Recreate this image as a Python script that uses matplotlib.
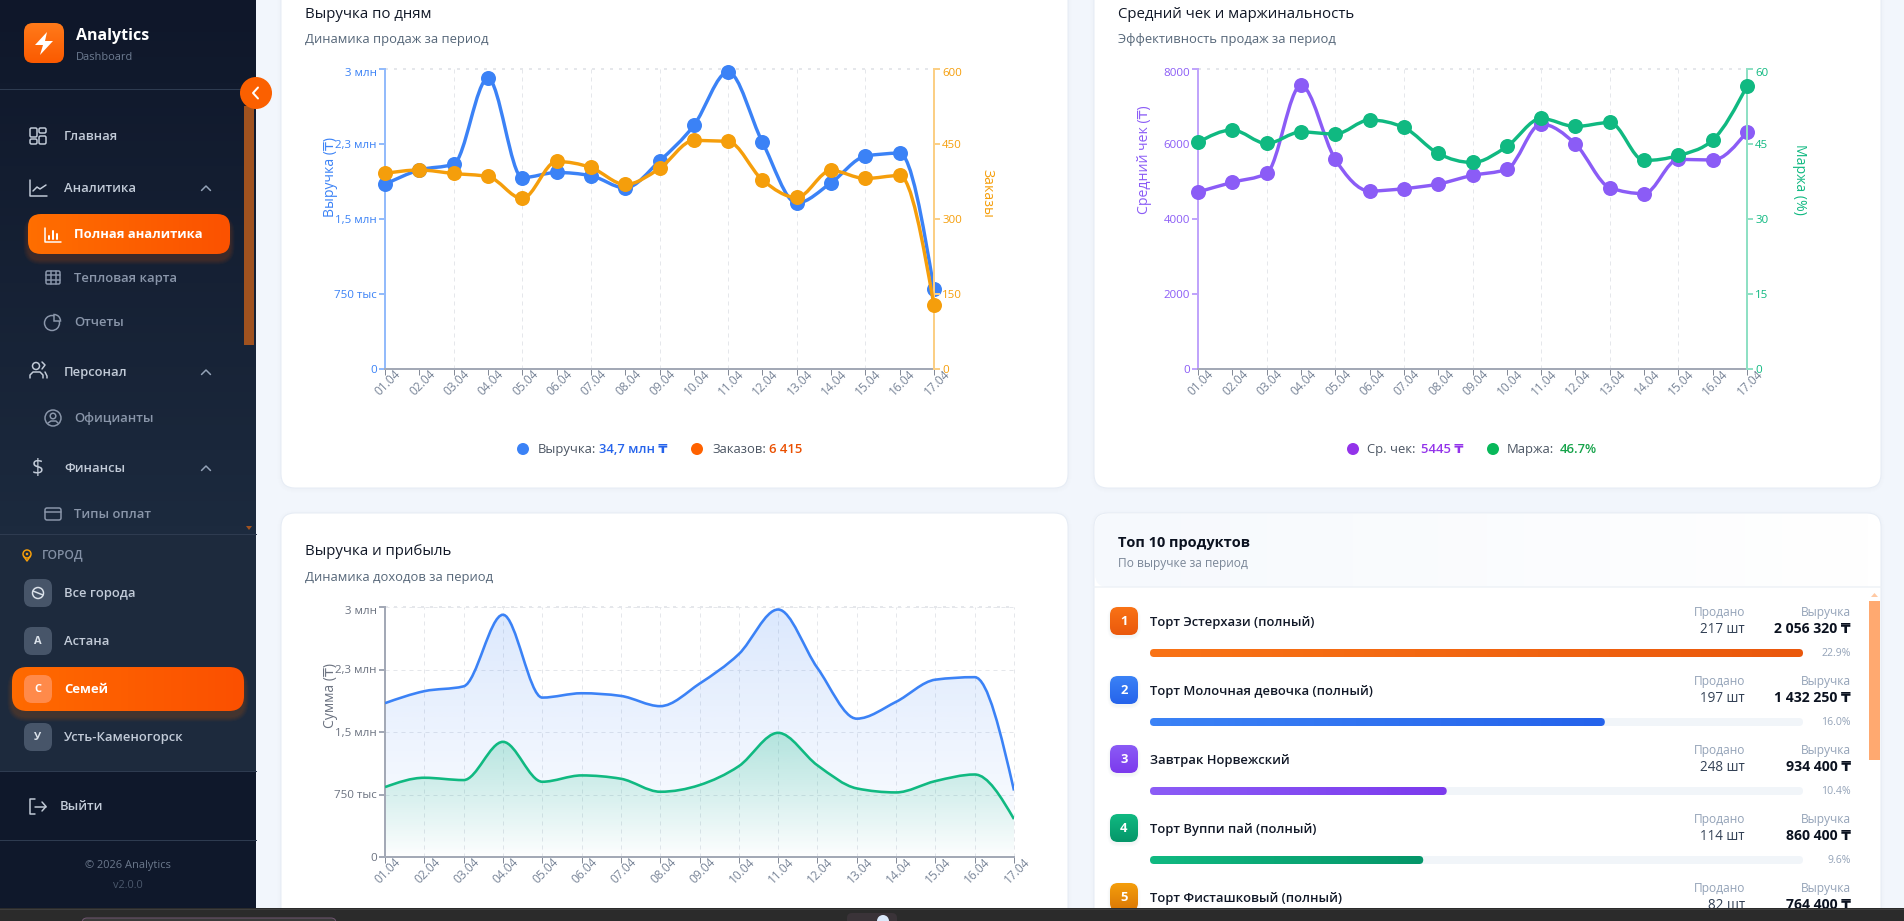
import matplotlib
matplotlib.use("Agg")
import matplotlib.pyplot as plt
import numpy as np
from matplotlib.colors import to_rgb
from matplotlib.patches import Circle, FancyBboxPatch, PathPatch, Polygon, Rectangle, Wedge
from matplotlib.path import Path
from matplotlib.transforms import ScaledTranslation

W, H = 1904, 921
PT = 0.72  # px -> pt at dpi 100

plt.rcParams['font.family'] = ['Open Sans', 'DejaVu Sans']

days = ['01.04', '02.04', '03.04', '04.04', '05.04', '06.04', '07.04', '08.04', '09.04',
        '10.04', '11.04', '12.04', '13.04', '14.04', '15.04', '16.04', '17.04']
revenue = [1846000, 1990000, 2048000, 2907000, 1913000, 1965000, 1933000, 1810000, 2080000,
           2435000, 2970000, 2268000, 1660000, 1862000, 2128000, 2158000, 798000]
orders = [391, 398, 391, 385, 341, 415, 403, 369, 401, 457, 455, 378, 343, 397, 381, 387, 127]
avg_check = [4720, 4978, 5218, 7564, 5591, 4747, 4809, 4933, 5164, 5324, 6533, 6000, 4836, 4676,
             5591, 5573, 6329]
margin = [45.3, 47.8, 45.1, 47.4, 47.0, 49.8, 48.3, 43.1, 41.3, 44.5, 50.1, 48.5, 49.3, 41.7,
          42.7, 45.8, 56.6]
profit = [839000, 951000, 923000, 1382000, 903000, 979000, 939000, 783000, 863000, 1090000,
          1490000, 1100000, 823000, 775000, 911000, 990000, 455000]

money_ticks = [0, 750000, 1500000, 2250000, 3000000]
money_labels = ['0', '750 тыс', '1,5 млн', '2,3 млн', '3 млн']
order_ticks = [0, 150, 300, 450, 600]
check_ticks = [0, 2000, 4000, 6000, 8000]
margin_ticks = [0, 15, 30, 45, 60]

products = ['Торт Эстерхази (полный)', 'Торт Молочная девочка (полный)', 'Завтрак Норвежский',
            'Торт Вуппи пай (полный)', 'Торт Фисташковый (полный)']
product_qty = ['217 шт', '197 шт', '248 шт', '114 шт', '82 шт']
product_rev = [2056320, 1432250, 934400, 860400, 764400]
product_rev_labels = ['2 056 320 ₸', '1 432 250 ₸', '934 400 ₸', '860 400 ₸', '764 400 ₸']
product_share = ['22.9%', '16.0%', '10.4%', '9.6%']  # fifth row is below the fold
product_colors = [('#f97316', '#ea580c'), ('#3b82f6', '#2563eb'), ('#8b5cf6', '#7c3aed'),
                  ('#10b981', '#059669'), ('#f59e0b', '#d97706')]

BLUE, ORANGE, PURPLE, GREEN = '#3b82f6', '#f59e0b', '#8b5cf6', '#10b981'
GREY_AXIS = '#a3a9b6'
GRID = '#e5e7eb'


def monotone_path(xs, ys, close_to=None):
    # same curve as d3 curveMonotoneX
    xs, ys = np.asarray(xs, float), np.asarray(ys, float)
    h = np.diff(xs)
    s = np.diff(ys) / h
    t = np.zeros(len(xs))
    for i in range(1, len(xs) - 1):
        p = (s[i - 1] * h[i] + s[i] * h[i - 1]) / (h[i - 1] + h[i])
        t[i] = (np.sign(s[i - 1]) + np.sign(s[i])) * min(abs(s[i - 1]), abs(s[i]), 0.5 * abs(p))
    t[0] = (3 * s[0] - t[1]) / 2
    t[-1] = (3 * s[-1] - t[-2]) / 2
    verts = [(xs[0], ys[0])]
    codes = [Path.MOVETO]
    for i in range(len(h)):
        d = h[i] / 3
        verts += [(xs[i] + d, ys[i] + d * t[i]), (xs[i + 1] - d, ys[i + 1] - d * t[i + 1]),
                  (xs[i + 1], ys[i + 1])]
        codes += [Path.CURVE4] * 3
    if close_to is not None:
        verts += [(xs[-1], close_to), (xs[0], close_to), (xs[0], close_to)]
        codes += [Path.LINETO, Path.LINETO, Path.CLOSEPOLY]
    return Path(verts, codes)


def px_axes(fig, x0, y0, x1, y1):
    ax = fig.add_axes([x0 / W, 1 - y1 / H, (x1 - x0) / W, (y1 - y0) / H])
    ax.set_facecolor('none')
    ax.px_rect = (x0, y0, x1, y1)
    return ax


def label_at(ax, axis, text, px, py, color, rotation):
    x0, y0, x1, y1 = ax.px_rect
    axis.set_label_text(text, color=color, fontsize=14 * PT, rotation=rotation, va='center', ha='center')
    axis.set_label_coords((px - x0) / (x1 - x0), (y1 - py) / (y1 - y0))


def push_top_label(ax, axis):
    # the browser pushes the topmost tick label down a little
    lab = axis.get_ticklabels()[-1]
    lab.set_transform(lab.get_transform() + ScaledTranslation(0, -3 / 100, ax.figure.dpi_scale_trans))


def style_axis(ax, side, ticks, labels, color, line_color):
    yaxis = ax.yaxis
    ax.set_yticks(ticks)
    ax.set_yticklabels(labels)
    ax.set_ylim(ticks[0], ticks[-1])
    for name, spine in ax.spines.items():
        spine.set_visible(name == side)
    ax.spines[side].set_color(line_color)
    ax.spines[side].set_linewidth(2 * PT)
    ax.tick_params(axis='y', length=6 * PT, width=2 * PT, color=line_color, labelcolor=color,
                   labelsize=11.5 * PT, pad=1.5)
    if side == 'right':
        yaxis.tick_right()
    push_top_label(ax, yaxis)


def style_days(ax):
    ax.set_xlim(0, len(days) - 1)
    ax.set_xticks(range(len(days)))
    ax.set_xticklabels(days, rotation=45, ha='center', va='top')
    ax.spines['bottom'].set_visible(True)
    ax.spines['bottom'].set_color(GREY_AXIS)
    ax.spines['bottom'].set_linewidth(2 * PT)
    ax.tick_params(axis='x', length=6 * PT, width=1 * PT, color='#858b98', labelcolor='#7a8699',
                   labelsize=12 * PT, pad=-8 * PT)
    for lab in ax.get_xticklabels():
        lab.set_transform(lab.get_transform() + ScaledTranslation(3 / 100, 0, ax.figure.dpi_scale_trans))


def draw_series(ax, values, color, z=3):
    xs = np.arange(len(values))
    ax.add_patch(PathPatch(monotone_path(xs, values), fc='none', ec=color, lw=3.4 * PT, zorder=z,
                           clip_on=False, capstyle='round'))
    ax.plot(xs, values, ls='none', marker='o', ms=15 * PT, color=color, mew=0, zorder=z + 1, clip_on=False)


def dual_chart(fig, rect, left, right):
    ax = px_axes(fig, *rect)
    ax2 = ax.twinx()
    ax2.px_rect = rect
    ax2.set_facecolor('none')
    for a, (values, ticks, labels, color, line_color), side in ((ax, left, 'left'), (ax2, right, 'right')):
        style_axis(a, side, ticks, labels, color, line_color)
        draw_series(a, values, color)
    style_days(ax)
    ax2.tick_params(axis='x', bottom=False, labelbottom=False)
    for d in range(0, len(days) - 1, 2):
        ax.axvline(d, color=GRID, lw=1 * PT, ls=(0, (4, 4)), zorder=1)
    ax.axhline(left[1][-1], color=GRID, lw=2 * PT, ls=(0, (1.5, 3)), zorder=1, clip_on=False)
    return ax, ax2


def gradient_area(ax, values, color, alpha_top, alpha_bottom):
    xs = np.arange(len(values))
    rgb = to_rgb(color)
    img = np.zeros((128, 1, 4))
    img[..., :3] = rgb
    img[..., 3] = np.linspace(alpha_bottom, alpha_top, 128)[:, None]
    im = ax.imshow(img, extent=(xs[0], xs[-1], 0, max(values)), origin='lower', aspect='auto', zorder=2)
    im.set_clip_path(PathPatch(monotone_path(xs, values, close_to=0), transform=ax.transData))
    ax.add_patch(PathPatch(monotone_path(xs, values), fc='none', ec=color, lw=2.6 * PT, zorder=3))


# ---------- page shell helpers, drawn in pixel coordinates ----------
def box(ui, x, y, w, h, r, fc, ec='none', lw=0, z=1, alpha=None):
    p = FancyBboxPatch((x, y), w, h, boxstyle=f'round,pad=0,rounding_size={r}', fc=fc, ec=ec, lw=lw,
                       zorder=z, alpha=alpha)
    ui.add_patch(p)
    return p


def grad_box(ui, x, y, w, h, r, c0, c1, horizontal=True, z=1):
    a, b = np.array(to_rgb(c0)), np.array(to_rgb(c1))
    ramp = np.linspace(0, 1, 64)[:, None] * (b - a) + a
    img = ramp[None, :, :] if horizontal else ramp[:, None, :]
    clip = box(ui, x, y, w, h, r, 'none', z=z)
    im = ui.imshow(img, extent=(x, x + w, y + h, y), origin='upper', aspect='auto', zorder=z)
    im.set_clip_path(clip)


def shadow(ui, x, y, w, h, r, color, alpha=0.05, dy=5, spread=9, z=1):
    for i in range(spread, 0, -2):
        box(ui, x - i / 2, y + dy - i / 2, w + i, h + i, r + i / 2, color, z=z, alpha=alpha)


def txt(ui, x, y, s, size, color, weight='normal', ha='left', z=6):
    return ui.text(x, y, s, fontsize=size * PT, color=color, fontweight=weight, ha=ha, va='center',
                   zorder=z)


def lines(ui, pts, color, lw=1.5, z=6):
    xs, ys = zip(*pts)
    ui.plot(xs, ys, color=color, lw=lw * PT, solid_capstyle='round', solid_joinstyle='round', zorder=z)


def outline(ui, x, y, w, h, r, color, lw=1.5, z=6):
    box(ui, x, y, w, h, r, 'none', ec=color, lw=lw * PT, z=z)


def ring(ui, x, y, r, color, lw=1.5, z=6):
    ui.add_patch(Circle((x, y), r, fc='none', ec=color, lw=lw * PT, zorder=z))


def chevron_up(ui, x, y, color='#94a3b8'):
    lines(ui, [(x - 4.5, y + 2.5), (x, y - 2), (x + 4.5, y + 2.5)], color)


def draw_sidebar(ui):
    grad_box(ui, 0, 0, 256, 534, 0, '#0f172a', '#1c2a3e', horizontal=False)
    ui.add_patch(Rectangle((0, 534), 256, 237, fc='#1d2a3d', zorder=1))
    ui.add_patch(Rectangle((0, 771), 256, 137, fc='#0f182b', zorder=1))
    for y in (89, 534, 771, 840):
        ui.plot([0, 256], [y, y], color='#2e3b50', lw=1 * PT, zorder=2)

    # scrollbar under the collapse button
    ui.add_patch(Rectangle((244, 106), 10, 239, fc='#a0521f', zorder=2))
    ui.add_patch(Polygon([(246, 526), (252, 526), (249, 530)], fc='#a0521f', zorder=2))

    # logo
    grad_box(ui, 24, 23, 40, 40, 9, '#ff7a1a', '#fb5a00', horizontal=False, z=3)
    ui.add_patch(Polygon([(47, 32), (35, 45), (43, 45), (40, 55), (53, 41), (45, 41)], fc='white', zorder=5))
    txt(ui, 76, 36, 'Analytics', 16, 'white', 'bold')
    txt(ui, 76, 58, 'Dashboard', 11, '#6f7d93')

    # collapse button
    ui.add_patch(Circle((256, 93), 16, fc='#fb6000', zorder=5))
    lines(ui, [(258, 87.5), (253, 93), (258, 98.5)], 'white', lw=2, z=7)

    main_col, sub_col = '#c2cbd8', '#8a96aa'
    for y, s in ((136, 'Главная'), (188, 'Аналитика'), (372, 'Персонал'), (468, 'Финансы')):
        txt(ui, 64, y, s, 13, main_col, 'semibold')
    for y in (188, 372, 468):
        chevron_up(ui, 206, y)
    for y, s in ((278, 'Тепловая карта'), (322, 'Отчеты'), (418, 'Официанты'), (514, 'Типы оплат')):
        txt(ui, 74, y, s, 13, sub_col, 'semibold')

    # active item
    shadow(ui, 28, 214, 202, 40, 13, '#ff6a00', alpha=0.04, dy=6)
    grad_box(ui, 28, 214, 202, 40, 13, '#ff6e00', '#fb5200', z=3)
    txt(ui, 74, 234, 'Полная аналитика', 13, 'white', 'bold')

    # icons
    for bx, by, bw, bh in ((30, 128, 7, 9), (39, 128, 7, 5), (30, 139, 7, 5), (39, 136, 7, 8)):
        outline(ui, bx, by, bw, bh, 1.5, main_col)
    lines(ui, [(30, 180), (30, 196), (47, 196)], main_col)
    lines(ui, [(33, 191), (37, 187), (40, 189), (46, 185)], main_col)
    lines(ui, [(45, 228), (45, 242), (61, 242)], 'white')
    for bx, top in ((49, 236), (53, 231), (57, 234)):
        lines(ui, [(bx, top), (bx, 239)], 'white', lw=2)
    outline(ui, 46, 271, 14, 13, 1.5, sub_col)
    lines(ui, [(46, 275.5), (60, 275.5)], sub_col)
    lines(ui, [(46, 280), (60, 280)], sub_col)
    lines(ui, [(51, 271), (51, 284)], sub_col)
    lines(ui, [(55.5, 271), (55.5, 284)], sub_col)
    ring(ui, 52, 323, 7.5, sub_col)
    ui.add_patch(Wedge((54, 321), 6.5, 270, 360, fc='#1a2638', ec=sub_col, lw=1.5 * PT, zorder=7))
    ring(ui, 36, 366, 3.5, main_col)
    lines(ui, [(30, 378), (30, 375), (33, 372), (40, 372), (43, 375), (43, 378)], main_col)
    lines(ui, [(42, 362), (45, 365), (42, 369)], main_col)
    lines(ui, [(45, 372), (47, 376), (47, 378)], main_col)
    ring(ui, 53, 418, 8, sub_col)
    ring(ui, 53, 416, 2.8, sub_col)
    lines(ui, [(48, 423), (51, 421), (56, 421), (58, 423)], sub_col)
    txt(ui, 38, 468, '$', 21, main_col, 'normal', ha='center')
    outline(ui, 45, 508, 16, 12, 2, sub_col)
    lines(ui, [(45, 512), (61, 512)], sub_col)

    # city switcher
    ring(ui, 27, 554, 4, '#f59e0b')
    ui.add_patch(Circle((27, 554), 1.3, fc='#f59e0b', zorder=6))
    lines(ui, [(23.5, 556), (27, 561), (30.5, 556)], '#f59e0b')
    txt(ui, 42, 555, 'ГОРОД', 12, '#8390a5', 'semibold')
    city_rows = ((593, 'Все города', ''), (641, 'Астана', 'А'), (737, 'Усть-Каменогорск', 'У'))
    for y, name, letter in city_rows:
        box(ui, 24, y - 14, 28, 28, 8, '#475569', z=3)
        if letter:
            txt(ui, 38, y, letter, 11, '#dbe2ea', 'bold', ha='center')
        txt(ui, 64, y, name, 13, '#c2cbd8', 'semibold')
    ring(ui, 38, 593, 5.5, '#dbe2ea')
    lines(ui, [(33, 591), (38, 593), (43, 595)], '#dbe2ea')
    shadow(ui, 12, 667, 232, 44, 15, '#ff6a00', alpha=0.04, dy=6)
    grad_box(ui, 12, 667, 232, 44, 15, '#ff6a00', '#fb5000', z=3)
    box(ui, 24, 675, 28, 28, 8, '#ff8a4a', z=4)
    txt(ui, 38, 689, 'С', 11, 'white', 'bold', ha='center')
    txt(ui, 64, 689, 'Семей', 13, 'white', 'bold')

    # logout and footer
    lines(ui, [(35, 799), (30, 799), (30, 814), (35, 814)], '#c2cbd8')
    lines(ui, [(35, 806.5), (46, 806.5)], '#c2cbd8')
    lines(ui, [(42, 802), (46, 806.5), (42, 811)], '#c2cbd8')
    txt(ui, 60, 806, 'Выйти', 13, '#c2cbd8', 'semibold')
    txt(ui, 128, 865, '© 2026 Analytics', 11, '#6b788c', ha='center')
    txt(ui, 128, 885, 'v2.0.0', 11, '#4b586c', ha='center')


def draw_cards(ui):
    for x, y, w, h in ((281, -30, 787, 518), (1094, -30, 787, 518), (281, 513, 787, 430), (1094, 513, 787, 430)):
        shadow(ui, x, y, w, h, 14, '#b8c7dc', alpha=0.012, dy=1, spread=7, z=1)
        box(ui, x, y, w, h, 14, 'white', ec='#e6ecf5', lw=1 * PT, z=2)

    heads = ((305, 14, 39, 'Выручка по дням', 'Динамика продаж за период'),
             (1118, 14, 39, 'Средний чек и маржинальность', 'Эффективность продаж за период'),
             (305, 551, 577, 'Выручка и прибыль', 'Динамика доходов за период'))
    for x, y0, y1, title, sub in heads:
        txt(ui, x, y0, title, 15, '#111827', 'medium')
        txt(ui, x, y1, sub, 13, '#566779')

    # legend rows under the two upper charts
    for dot_x, text_x, val_x, dot_c, lead, val, val_c in (
            (523, 538, 599, '#3b82f6', 'Выручка:', '34,7 млн ₸', '#2563eb'),
            (697, 712, 769, '#ff6200', 'Заказов:', '6 415', '#ea4f00'),
            (1353, 1367, 1421, '#9333ea', 'Ср. чек:', '5445 ₸', '#9333ea'),
            (1493, 1507, 1560, '#08b85a', 'Маржа:', '46.7%', '#16a34a')):
        ui.add_patch(Circle((dot_x, 449), 6, fc=dot_c, zorder=5))
        txt(ui, text_x, 449, lead, 13, '#4b5563')
        txt(ui, val_x, 449, val, 13, val_c, 'semibold')


def draw_product_panel(ui):
    grad_box(ui, 1095, 514, 785, 73, 13, '#f6f9fd', '#ffffff', z=3)
    ui.plot([1094, 1881], [587, 587], color='#eef2f7', lw=1.5 * PT, zorder=4)
    txt(ui, 1118, 543, 'Топ 10 продуктов', 14.5, '#0b1220', 'bold')
    txt(ui, 1118, 563, 'По выручке за период', 12, '#7b8798')
    ui.add_patch(Rectangle((1869, 601), 11, 159, fc='#ffa970', zorder=4))
    ui.add_patch(Polygon([(1871, 597), (1878, 597), (1874.5, 593)], fc='#ffc9a3', zorder=4))
    for i, name in enumerate(products):
        c0, c1 = product_colors[i]
        dy = 69 * i
        shadow(ui, 1110, 607 + dy, 28, 28, 8, '#94a3b8', alpha=0.03, dy=2, spread=5, z=3)
        grad_box(ui, 1110, 607 + dy, 28, 28, 8, c0, c1, horizontal=False, z=4)
        txt(ui, 1124, 621 + dy, str(i + 1), 13, 'white', 'bold', ha='center')
        txt(ui, 1150, 622 + dy, name, 13, '#111827', 'semibold')
        txt(ui, 1745, 612 + dy, 'Продано', 12, '#94a3b8', ha='right')
        txt(ui, 1745, 629 + dy, product_qty[i], 13.5, '#334155', ha='right')
        txt(ui, 1851, 612 + dy, 'Выручка', 12, '#94a3b8', ha='right')
        txt(ui, 1851, 629 + dy, product_rev_labels[i], 14, '#0b1220', 'bold', ha='right')
        if i < len(product_share):
            txt(ui, 1851, 653 + dy, product_share[i], 10.5, '#94a3b8', ha='right')


def draw_product_bars(fig):
    ax = px_axes(fig, 1150, 608, 1803, 908)
    top = max(product_rev)
    ax.set_xlim(0, top)
    ax.set_ylim(255 / 69, -45 / 69)  # one row is one unit
    ax.set_autoscale_on(False)
    ax.axis('off')
    x_per_px = top / 653
    half = 4 / 69
    radius = 4 * x_per_px
    aspect = half / radius

    def rounded(value, row, **kw):
        p = FancyBboxPatch((0, row - half), value, 2 * half, mutation_aspect=aspect,
                           boxstyle=f'round,pad=0,rounding_size={radius}', **kw)
        ax.add_patch(p)
        return p

    for row, value in enumerate(product_rev):
        rounded(top, row, fc='#f1f5f9', ec='none', zorder=1)
        a, b = np.array(to_rgb(product_colors[row][0])), np.array(to_rgb(product_colors[row][1]))
        clip = rounded(value, row, fc='none', ec='none', zorder=2)
        img = (np.linspace(0, 1, 64)[:, None] * (b - a) + a)[None, :, :]
        im = ax.imshow(img, extent=(0, value, row + half, row - half), aspect='auto', origin='upper', zorder=2)
        im.set_clip_path(clip)


fig = plt.figure(figsize=(W / 100, H / 100), dpi=100, facecolor='#f2f6fc')
ui = fig.add_axes([0, 0, 1, 1], zorder=0)
ui.set_xlim(0, W)
ui.set_ylim(H, 0)
ui.set_autoscale_on(False)
ui.axis('off')

draw_cards(ui)
draw_sidebar(ui)
draw_product_panel(ui)

# footer strip of the browser window
ui.add_patch(Rectangle((0, 908), W, 13, fc='#2b2b2b', zorder=20))
ui.plot([0, W], [908.5, 908.5], color='#3d3d3d', lw=1 * PT, zorder=21)
box(ui, 82, 918, 254, 12, 5, '#3a3a3a', ec='#6f5570', lw=1 * PT, z=21)
box(ui, 847, 913, 50, 14, 5, '#3a3338', z=21)
ui.add_patch(Circle((883, 921), 6, fc='#dbe9fb', zorder=22))

# revenue and orders
ax, ax2 = dual_chart(fig, (385, 69, 934, 369),
                     (revenue, money_ticks, money_labels, BLUE, '#93bbfb'),
                     (orders, order_ticks, order_ticks, ORANGE, '#fbcf85'))
label_at(ax, ax.yaxis, 'Выручка (₸)', 331, 177, BLUE, 90)
ax2.yaxis.set_label_position('right')
label_at(ax2, ax2.yaxis, 'Заказы', 987, 193, ORANGE, -90)

# average check and margin
ax, ax2 = dual_chart(fig, (1198, 69, 1747, 369),
                     (avg_check, check_ticks, check_ticks, PURPLE, '#c0a4fb'),
                     (margin, margin_ticks, margin_ticks, GREEN, '#8fe0c4'))
label_at(ax, ax.yaxis, 'Средний чек (₸)', 1144, 160, PURPLE, 90)
ax2.yaxis.set_label_position('right')
label_at(ax2, ax2.yaxis, 'Маржа (%)', 1800, 179, GREEN, -90)

# revenue and profit areas
ax = px_axes(fig, 385, 607, 1014, 857)
style_axis(ax, 'left', money_ticks, money_labels, '#6b7280', GREY_AXIS)
style_days(ax)
ax.set_autoscale_on(False)
ax.grid(axis='both', color=GRID, lw=1 * PT, ls=(0, (4, 4)), zorder=1)
ax.set_axisbelow(True)
ax.axvline(len(days) - 1, color=GRID, lw=1 * PT, ls=(0, (4, 4)), zorder=1, clip_on=False)
ax.axhline(money_ticks[-1], color=GRID, lw=2 * PT, ls=(0, (1.5, 3)), zorder=1, clip_on=False)
gradient_area(ax, revenue, BLUE, 0.18, 0.01)
gradient_area(ax, profit, GREEN, 0.26, 0.0)
label_at(ax, ax.yaxis, 'Сумма (₸)', 331, 696, '#6b7280', 90)

draw_product_bars(fig)

fig.savefig('out.png', dpi=100, facecolor=fig.get_facecolor())
